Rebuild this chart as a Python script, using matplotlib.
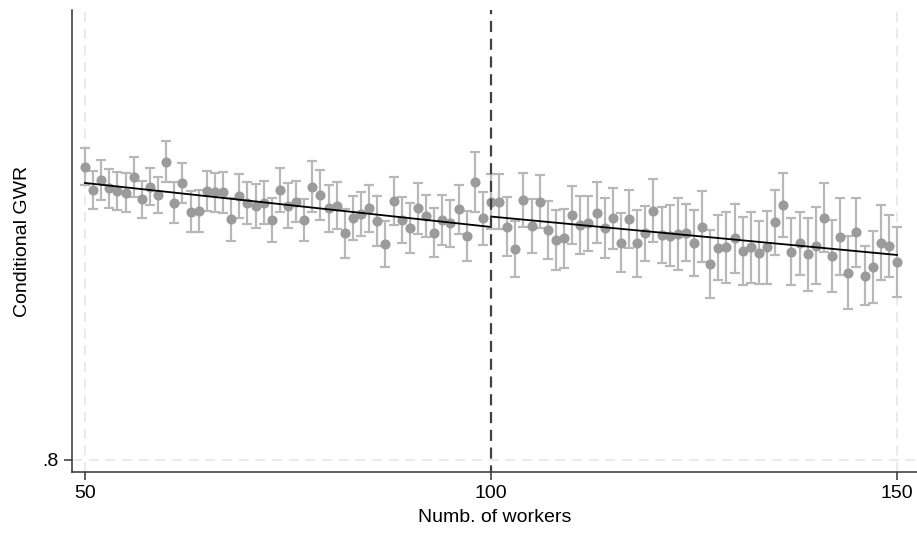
import numpy as np
import matplotlib.pyplot as plt

plt.rcParams['font.family'] = ['Liberation Sans', 'DejaVu Sans']

# Numero de trabajadores (bins) y estimaciones del GWR condicional
workers = np.arange(50, 151)

gwr = [0.9467, 0.9350, 0.9400, 0.9358, 0.9345, 0.9337, 0.9413, 0.9303, 0.9367, 0.9325,
       0.9492, 0.9287, 0.9383, 0.9242, 0.9245, 0.9345, 0.9338, 0.9338, 0.9203, 0.9320,
       0.9287, 0.9270, 0.9287, 0.9200, 0.9350, 0.9272, 0.9292, 0.9200, 0.9367, 0.9325,
       0.9258, 0.9272, 0.9133, 0.9208, 0.9230, 0.9258, 0.9195, 0.9080, 0.9295, 0.9200,
       0.9158, 0.9258, 0.9220, 0.9137, 0.9200, 0.9183, 0.9253, 0.9120, 0.9392, 0.9208,
       0.9292, 0.9292, 0.9167, 0.9053, 0.9300, 0.9170, 0.9292, 0.9150, 0.9100, 0.9108,
       0.9225, 0.9175, 0.9183, 0.9237, 0.9162, 0.9208, 0.9087, 0.9205, 0.9083, 0.9133,
       0.9247, 0.9125, 0.9122, 0.9130, 0.9137, 0.9083, 0.9167, 0.8980, 0.9062, 0.9063,
       0.9108, 0.9045, 0.9063, 0.9037, 0.9063, 0.9188, 0.9275, 0.9042, 0.9083, 0.9028,
       0.9072, 0.9212, 0.9020, 0.9117, 0.8937, 0.9138, 0.8922, 0.8967, 0.9087, 0.9070,
       0.8992]

# Semi-amplitud del intervalo de confianza
ci = [0.0093, 0.0096, 0.0098, 0.0096, 0.0096, 0.0096, 0.0100, 0.0092, 0.0093, 0.0092,
      0.0102, 0.0104, 0.0100, 0.0103, 0.0107, 0.0101, 0.0099, 0.0104, 0.0106, 0.0112,
      0.0105, 0.0109, 0.0108, 0.0112, 0.0111, 0.0112, 0.0104, 0.0105, 0.0126, 0.0123,
      0.0117, 0.0119, 0.0123, 0.0110, 0.0111, 0.0118, 0.0123, 0.0113, 0.0119, 0.0113,
      0.0125, 0.0127, 0.0104, 0.0122, 0.0127, 0.0117, 0.0123, 0.0123, 0.0150, 0.0132,
      0.0139, 0.0139, 0.0146, 0.0140, 0.0135, 0.0137, 0.0132, 0.0144, 0.0148, 0.0148,
      0.0146, 0.0143, 0.0137, 0.0154, 0.0150, 0.0152, 0.0146, 0.0147, 0.0169, 0.0137,
      0.0156, 0.0142, 0.0152, 0.0179, 0.0142, 0.0165, 0.0177, 0.0168, 0.0164, 0.0177,
      0.0173, 0.0168, 0.0177, 0.0157, 0.0184, 0.0164, 0.0162, 0.0169, 0.0156, 0.0183,
      0.0193, 0.0172, 0.0179, 0.0192, 0.0183, 0.0174, 0.0148, 0.0180, 0.0186, 0.0156,
      0.0175]

cutoff = 100
# Rectas ajustadas (extremos de cada tramo)
fit_left_x = [50, 100]
fit_left_y = [0.9385, 0.9165]
fit_right_x = [100, 150]
fit_right_y = [0.9217, 0.9025]

fig = plt.figure(figsize=(9.17, 5.35), dpi=100)
ax = fig.add_axes([0.0785, 0.1178, 0.9215, 0.8636])

# lineas de cuadricula
for xv in [50, 150]:
    ax.axvline(xv, color='#e6e6e6', lw=1.2, ls=(0, (6, 4)), zorder=0)
ax.axhline(0.8, color='#e6e6e6', lw=1.2, ls=(0, (6, 4)), zorder=0)

# intervalos y puntos
ax.errorbar(workers, gwr, yerr=ci, fmt='none', ecolor='#b8b8b8', elinewidth=1.6,
            capsize=3.3, capthick=1.6, zorder=2)
ax.plot(workers, gwr, 'o', color='#9b9b9b', markersize=7.3, markeredgewidth=0, zorder=3)

# ajuste lineal a cada lado del umbral
ax.plot(fit_left_x, fit_left_y, color='black', lw=1.3, zorder=4)
ax.plot(fit_right_x, fit_right_y, color='black', lw=1.3, zorder=4)

ax.axvline(cutoff, color='#404040', lw=1.6, ls=(2, (5, 3)), zorder=5)

ax.set_xlim(48.4, 152.46)
ax.set_ylim(0.794, 1.025)
ax.set_xticks([50, 100, 150])
ax.set_yticks([0.8])
ax.set_yticklabels(['.8'])
ax.tick_params(axis='both', labelsize=14, length=6, width=1.1, color='#333333')
ax.spines['top'].set_visible(False)
ax.spines['right'].set_visible(False)
for s in ['left', 'bottom']:
    ax.spines[s].set_color('#333333')
    ax.spines[s].set_linewidth(1.1)

ax.set_xlabel('Numb. of workers', fontsize=14, labelpad=5)
ax.set_ylabel('Conditional GWR', fontsize=14, labelpad=8)

fig.savefig('out.png', dpi=100)
